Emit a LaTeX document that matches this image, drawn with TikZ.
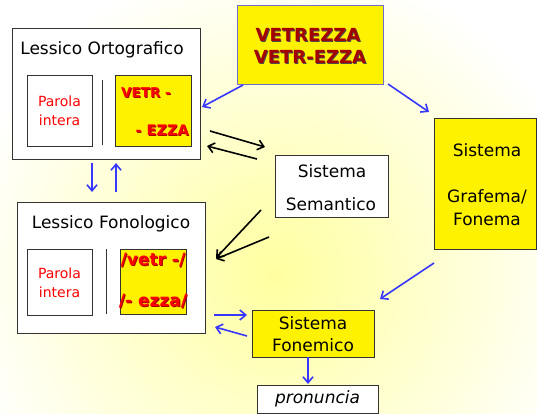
\documentclass[tikz,border=0pt]{standalone}
\usepackage{fontspec}
\setmainfont{DejaVu Sans}
\usetikzlibrary{arrows.meta}
\definecolor{bgyel}{RGB}{255,255,160}
\definecolor{ablue}{RGB}{55,55,255}
\definecolor{dred}{RGB}{165,0,0}
\definecolor{vzborder}{RGB}{110,110,200}
\newcommand\shd[3]{\makebox[0pt][l]{\kern0.9pt\raisebox{-0.9pt}{\textcolor{#1}{#3}}}\textcolor{#2}{#3}}
\begin{document}
\begin{tikzpicture}[x=1pt,y=-1pt,
  box/.style={draw=black!80, line width=0.8pt, inner sep=0pt},
  ybox/.style={box, fill=yellow},
  wbox/.style={box, fill=white},
  lbl/.style={font=\fontsize{17}{20}\selectfont, text=black, inner sep=0pt},
  redtxt/.style={font=\fontsize{14}{19}\selectfont, text=red, align=center, inner sep=0pt},
  vtxt/.style={font=\bfseries\fontsize{13.5}{16}\selectfont, inner sep=0pt},
  barr/.style={-{Straight Barb[length=6pt,width=10pt]}, line width=1.6pt, draw=ablue},
  karr/.style={-{Straight Barb[length=6pt,width=10pt]}, line width=1.6pt, draw=black}]
% background
\fill[white] (0,0) rectangle (537,414);
\begin{scope}
  \clip (0,0) rectangle (537,414);
  \shade[inner color=bgyel, outer color=white] (275,275) circle (320);
\end{scope}
\useasboundingbox (0,0) rectangle (537,414);

% Lessico Ortografico
\node[wbox, minimum width=188, minimum height=131] (LO) at (106,93.5) {};
\node[lbl] (LOt) at (102,50) {Lessico Ortografico};
\node[wbox, minimum width=65, minimum height=71] (LOp) at (59.5,110.5) {};
\node[redtxt] (LOpt) at (59.5,111) {Parola\\intera};
\draw[line width=0.8pt, black!80] (102,80) -- (102,145);
\node[ybox, minimum width=76, minimum height=71] (LOy) at (153,110.5) {};
\node[vtxt, anchor=west] (LOy1) at (121,93) {\shd{dred}{red}{VETR -}};
\node[vtxt, font=\bfseries\fontsize{14.5}{16}\selectfont, anchor=east] (LOy2) at (189,131) {\shd{dred}{red}{- EZZA}};

% VETREZZA
\node[ybox, draw=vzborder, minimum width=146, minimum height=79] (VZ) at (310,44.5) {};
\node[font=\bfseries\fontsize{18}{20}\selectfont, inner sep=0pt] (VZ1) at (308,35) {\shd{black!70}{dred}{VETREZZA}};
\node[font=\bfseries\fontsize{18}{20}\selectfont, inner sep=0pt] (VZ2) at (310,57) {\shd{black!70}{dred}{VETR-EZZA}};

% Sistema Semantico
\node[wbox, minimum width=113, minimum height=62] (SS) at (331.5,186) {};
\node[lbl] (SS1) at (332,171) {Sistema};
\node[lbl] (SS2) at (331,204) {Semantico};

% Sistema Grafema/Fonema
\node[ybox, minimum width=102, minimum height=131] (GF) at (485,183.5) {};
\node[lbl] (GF1) at (487,150) {Sistema};
\node[lbl] (GF2) at (487,197) {Grafema/};
\node[lbl] (GF3) at (487,219) {Fonema};

% Lessico Fonologico
\node[wbox, minimum width=188, minimum height=131] (LF) at (111,267.5) {};
\node[lbl] (LFt) at (111,224) {Lessico Fonologico};
\node[wbox, minimum width=65, minimum height=66] (LFp) at (59.5,282) {};
\node[redtxt] (LFpt) at (59.5,283) {Parola\\intera};
\draw[line width=0.8pt, black!80] (106,249) -- (106,314);
\node[ybox, minimum width=66, minimum height=65] (LFy) at (153,281.5) {};
\node[vtxt, font=\bfseries\fontsize{17}{18}\selectfont] (LFy1) at (153,261) {\shd{dred}{red}{/vetr -/}};
\node[vtxt, font=\bfseries\fontsize{17}{18}\selectfont] (LFy2) at (153,302) {\shd{dred}{red}{/- ezza/}};

% Sistema Fonemico
\node[ybox, minimum width=122, minimum height=47] (SF) at (313,333.5) {};
\node[lbl] (SF1) at (313,323) {Sistema};
\node[lbl] (SF2) at (313,345) {Fonemico};

% pronuncia
\node[wbox, minimum width=121, minimum height=28] (PR) at (317.5,399) {};
\node[lbl, font=\itshape\fontsize{17}{20}\selectfont] (PRt) at (317.5,399) {pronuncia};

% connector end points
\coordinate (a1s) at (243,85);  \coordinate (a1e) at (202,107);
\coordinate (a2s) at (388,84);  \coordinate (a2e) at (429,112);
\coordinate (a3s) at (434,263); \coordinate (a3e) at (380,299);
\coordinate (b1s) at (210,131); \coordinate (b1e) at (265,147);
\coordinate (b2s) at (257,159); \coordinate (b2e) at (207,146);
\coordinate (b3s) at (261,210); \coordinate (b3e) at (216,258);
\coordinate (b4s) at (269,237); \coordinate (b4e) at (216,259);
\coordinate (c1s) at (214,315); \coordinate (c1e) at (247,315);
\coordinate (c2s) at (247,336); \coordinate (c2e) at (215,327);
\coordinate (d1s) at (92,163);  \coordinate (d1e) at (92,192);
\coordinate (d2s) at (116,192); \coordinate (d2e) at (116,163);
\coordinate (e1s) at (308,357); \coordinate (e1e) at (308,384);

\draw[barr] (a1s) -- (a1e);
\draw[barr] (a2s) -- (a2e);
\draw[barr] (a3s) -- (a3e);
\draw[karr] (b1s) -- (b1e);
\draw[karr] (b2s) -- (b2e);
\draw[karr] (b3s) -- (b3e);
\draw[karr] (b4s) -- (b4e);
\draw[barr] (c1s) -- (c1e);
\draw[barr] (c2s) -- (c2e);
\draw[barr] (d1s) -- (d1e);
\draw[barr] (d2s) -- (d2e);
\draw[barr] (e1s) -- (e1e);
\end{tikzpicture}
\end{document}
